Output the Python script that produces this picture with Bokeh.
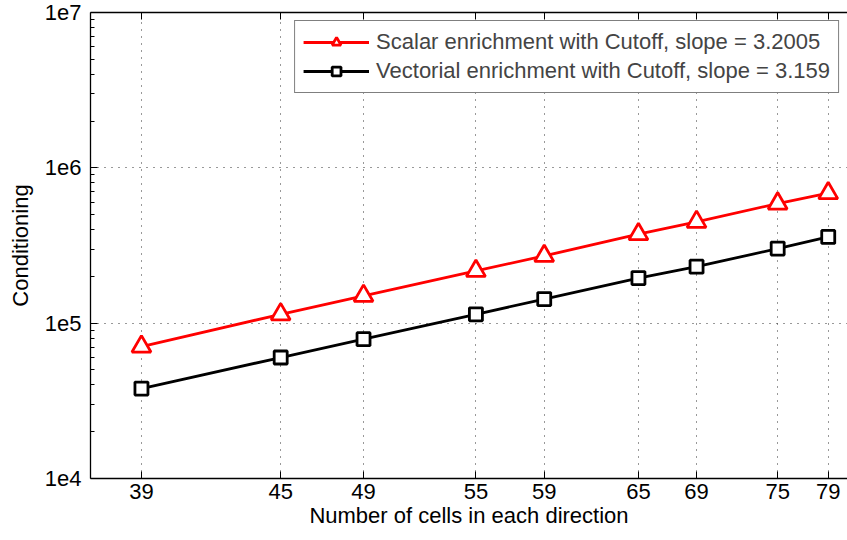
from bokeh.plotting import figure
from bokeh.models import Range1d, FixedTicker, LogAxis, Legend, LegendItem
from bokeh.embed import file_html
from bokeh.resources import INLINE

cells = [39, 45, 49, 55, 59, 65, 69, 75, 79]
scalar_cond = [70700, 114000, 150000, 217000, 271000, 374000, 449000, 589000, 687000]
vector_cond = [37900, 60100, 78900, 114000, 143000, 195000, 231000, 302000, 359000]
y_ticks = [10000, 100000, 1000000, 10000000]
y_tick_labels = ["1e4", "1e5", "1e6", "1e7"]
scalar_label = "Scalar enrichment with Cutoff, slope = 3.2005"
vector_label = "Vectorial enrichment with Cutoff, slope = 3.159"
x_title = "Number of cells in each direction"
y_title = "Conditioning"

FONT = "Liberation Sans"
FS = "22px"

p = figure(width=847, height=540, x_axis_type="log", y_axis_type="log",
           x_range=Range1d(37.01, 80.58), y_range=Range1d(1e4, 1e7),
           output_backend="svg", toolbar_location=None,
           min_border_left=90, min_border_right=0, min_border_top=12,
           min_border_bottom=62)
p.outline_line_color = None
p.background_fill_color = "white"
p.border_fill_color = "white"

y_minor = [k * t for t in y_ticks[:-1] for k in range(2, 10)]
xt = FixedTicker(ticks=cells)
yt = FixedTicker(ticks=y_ticks, minor_ticks=y_minor)

p.xaxis.ticker = xt
p.yaxis.ticker = yt
p.yaxis.major_label_overrides = {t: l for t, l in zip(y_ticks, y_tick_labels)}

for ax in (p.xaxis[0], p.yaxis[0]):
    ax.axis_line_color = "black"
    ax.axis_line_width = 1.3
    ax.major_tick_in = 7
    ax.major_tick_out = 0
    ax.minor_tick_in = 4
    ax.minor_tick_out = 0
    ax.major_tick_line_color = "black"
    ax.minor_tick_line_color = "black"
    ax.major_label_text_font = FONT
    ax.major_label_text_font_size = FS
    ax.major_label_text_color = "black"
    ax.axis_label_text_font = FONT
    ax.axis_label_text_font_size = FS
    ax.axis_label_text_font_style = "normal"
    ax.axis_label_text_color = "black"

p.xaxis.minor_tick_line_color = None
p.xaxis.axis_label = x_title
p.yaxis.axis_label = y_title
p.xaxis.major_label_standoff = 5
p.yaxis.major_label_standoff = 9
p.xaxis.axis_label_standoff = 1
p.yaxis.axis_label_standoff = 9

top = LogAxis(ticker=FixedTicker(ticks=cells), major_tick_in=7, major_tick_out=0,
              minor_tick_line_color=None,
              major_label_overrides={c: "" for c in cells},
              major_label_standoff=0, axis_line_color="black", axis_line_width=1.3)
p.add_layout(top, "above")

p.xgrid.ticker = xt
p.ygrid.ticker = FixedTicker(ticks=y_ticks)
for g in (p.xgrid[0], p.ygrid[0]):
    g.grid_line_color = "#333333"
    g.grid_line_dash = "1 6"
    g.grid_line_width = 1

l1 = p.line(cells, scalar_cond, line_color="red", line_width=2.8)
m1 = p.scatter(cells, scalar_cond, marker="triangle", size=19, fill_color="white",
               line_color="red", line_width=2.8)
l2 = p.line(cells, vector_cond, line_color="black", line_width=2.8)
m2 = p.scatter(cells, vector_cond, marker="square", size=13, fill_color="white",
               line_color="black", line_width=2.8)

legend = Legend(items=[LegendItem(label=scalar_label, renderers=[l1, m1]),
                       LegendItem(label=vector_label, renderers=[l2, m2])],
                location="top_right")
legend.label_text_font = FONT
legend.label_text_font_size = FS
legend.border_line_color = "black"
legend.border_line_width = 1.2
legend.glyph_width = 66
legend.glyph_height = 22
legend.label_height = 22
legend.label_standoff = 7
legend.spacing = 3
legend.padding = 8
legend.margin = 8
legend.background_fill_alpha = 1
p.add_layout(legend)

open("out.html", "w").write(file_html(p, INLINE))
